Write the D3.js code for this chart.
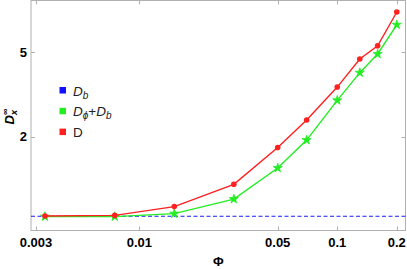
<!DOCTYPE html>
<html>
<head>
<meta charset="utf-8">
<script src="https://cdn.jsdelivr.net/npm/d3@7"></script>
<style>
  body { margin: 0; background: #fff; }
  svg { display: block; }
  text { font-family: "Liberation Sans", Arial, sans-serif; }
</style>
</head>
<body>
<div id="chart"></div>
<script>
// data
const phi = [0.00333, 0.0075, 0.015, 0.03, 0.05, 0.07, 0.1, 0.13, 0.16, 0.2];
const dTotal = [0.847, 0.853, 0.938, 1.195, 1.78, 2.40, 3.43, 4.65, 5.37, 7.74];
const dPhiB = [0.842, 0.842, 0.869, 1.018, 1.426, 1.93, 2.97, 4.01, 4.91, 6.74];
const dB = 0.845;
const xTicks = [0.003, 0.01, 0.05, 0.1, 0.2];
const xTickLabels = ["0.003", "0.01", "0.05", "0.1", "0.2"];
const yTicks = [2, 5];

const W = 407, H = 269;
const mLeft = 31, mRight = 405.5, mTop = 0.5, mBottom = 230.5;
const FRAME = "#b0b0b0";

const svg = d3.select("#chart").append("svg")
  .attr("width", W).attr("height", H);

const x = d3.scaleLog().domain([0.00283, 0.2213]).range([mLeft, mRight]);
const y = d3.scaleLog().domain([0.724, 8.77]).range([mBottom, mTop]);

// frame
svg.append("rect")
  .attr("x", mLeft).attr("y", mTop)
  .attr("width", mRight - mLeft).attr("height", mBottom - mTop)
  .attr("fill", "none").attr("stroke", FRAME).attr("stroke-width", 1);

// ticks (inside, on all four sides)
const TL = 4;
xTicks.forEach((t) => {
  const xp = Math.round(x(t)) + 0.5;
  svg.append("line").attr("x1", xp).attr("x2", xp)
    .attr("y1", mBottom).attr("y2", mBottom - TL).attr("stroke", FRAME);
  svg.append("line").attr("x1", xp).attr("x2", xp)
    .attr("y1", mTop).attr("y2", mTop + TL).attr("stroke", FRAME);
});
yTicks.forEach((t) => {
  const yp = Math.round(y(t)) + 0.5;
  svg.append("line").attr("x1", mLeft).attr("x2", mLeft + TL)
    .attr("y1", yp).attr("y2", yp).attr("stroke", FRAME);
  svg.append("line").attr("x1", mRight).attr("x2", mRight - TL)
    .attr("y1", yp).attr("y2", yp).attr("stroke", FRAME);
});

// tick labels
svg.append("g").selectAll("text").data(xTicks).join("text")
  .attr("x", (d) => x(d))
  .attr("y", 247)
  .attr("text-anchor", "middle")
  .attr("font-size", "13px").attr("font-weight", "bold")
  .text((d, i) => xTickLabels[i]);

svg.append("g").selectAll("text").data(yTicks).join("text")
  .attr("x", 27)
  .attr("y", (d) => y(d) + 4.5)
  .attr("text-anchor", "end")
  .attr("font-size", "13px").attr("font-weight", "bold")
  .text((d) => d);

// axis titles
svg.append("text")
  .attr("x", (mLeft + mRight) / 2).attr("y", 266)
  .attr("text-anchor", "middle")
  .attr("font-size", "13px").attr("font-weight", "bold")
  .text("Φ");

const yl = svg.append("text")
  .attr("transform", `translate(13.5,${(mTop + mBottom) / 2 + 9}) rotate(-90)`)
  .attr("font-size", "13px").attr("font-weight", "bold");
yl.append("tspan").attr("font-style", "italic").text("D");
yl.append("tspan").attr("font-size", "9px").attr("dy", 3).attr("font-style", "italic").text("x");
yl.append("tspan").attr("font-size", "9px").attr("dx", -5).attr("dy", -9).text("∞");

// blue dashed D_b line
svg.append("line")
  .attr("x1", mLeft).attr("x2", mRight)
  .attr("y1", y(dB)).attr("y2", y(dB))
  .attr("stroke", "#1a1aff").attr("stroke-width", 1.2)
  .attr("stroke-dasharray", "4,2.5");

const line = d3.line().x((d) => x(d[0])).y((d) => y(d[1]));

// green series
const greenPts = phi.map((p, i) => [p, dPhiB[i]]);
svg.append("path").datum(greenPts)
  .attr("d", line).attr("fill", "none")
  .attr("stroke", "#22ee22").attr("stroke-width", 1.4);
svg.append("g").selectAll("path").data(greenPts).join("path")
  .attr("transform", (d) => `translate(${x(d[0])},${y(d[1])})`)
  .attr("d", d3.symbol(d3.symbolStar, 26))
  .attr("fill", "#22ee22").attr("stroke", "#22ee22").attr("stroke-width", 0.8);

// red series
const redPts = phi.map((p, i) => [p, dTotal[i]]);
svg.append("path").datum(redPts)
  .attr("d", line).attr("fill", "none")
  .attr("stroke", "#ff2020").attr("stroke-width", 1.4);
svg.append("g").selectAll("circle").data(redPts).join("circle")
  .attr("cx", (d) => x(d[0])).attr("cy", (d) => y(d[1]))
  .attr("r", 2.8).attr("fill", "#ff2020");

// legend
const legend = [
  { color: "#1010ff", parts: [["D", ""], ["b", "sub"]] },
  { color: "#22ee22", parts: [["D", ""], ["ϕ", "sub"], ["+", "plain"], ["D", ""], ["b", "sub"]] },
  { color: "#ff2020", parts: [["D", "plain"]] }
];
legend.forEach((item, i) => {
  const cy = 90.5 + i * 20.8;
  svg.append("rect")
    .attr("x", 59.5).attr("y", cy - 3.5)
    .attr("width", 6.5).attr("height", 6.5)
    .attr("fill", item.color);
  const t = svg.append("text")
    .attr("x", 73).attr("y", cy + 5)
    .attr("font-size", "13.5px").attr("fill", "#222");
  let sub = false;
  item.parts.forEach(([s, kind]) => {
    const ts = t.append("tspan").text(s);
    if (kind === "sub") {
      ts.attr("font-size", "10px").attr("font-style", "italic").attr("dy", sub ? 0 : 3);
      sub = true;
    } else {
      if (sub) ts.attr("dy", -3);
      sub = false;
      if (kind !== "plain") ts.attr("font-style", "italic");
    }
  });
});
</script>
</body>
</html>
